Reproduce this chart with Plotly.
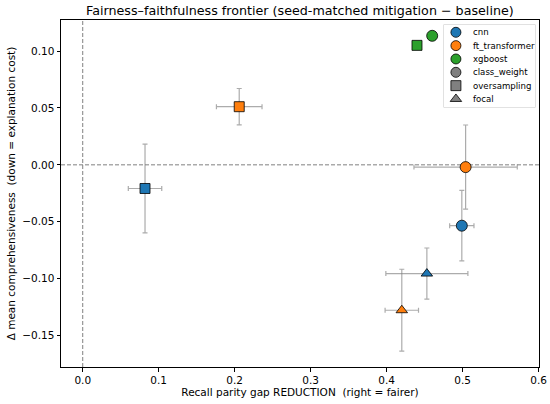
import plotly.graph_objects as go

# ---- data ----
models = ["cnn", "ft_transformer", "xgboost"]
model_colors = ["#1f77b4", "#ff7f0e", "#2ca02c"]
methods = ["class_weight", "oversampling", "focal"]
method_symbols = ["circle", "square", "triangle-up"]

# per (model, method): gap reduction (x), delta comprehensiveness (y), and errors
pt_model = ["cnn", "cnn", "cnn", "ft_transformer", "ft_transformer", "ft_transformer", "xgboost", "xgboost"]
pt_method = ["class_weight", "oversampling", "focal", "class_weight", "oversampling", "focal", "class_weight", "oversampling"]
gap_reduction = [0.499, 0.082, 0.453, 0.504, 0.206, 0.420, 0.460, 0.440]
gap_err = [0.016, 0.022, 0.054, 0.068, 0.030, 0.022, 0.0, 0.0]
delta_comp = [-0.0535, -0.0208, -0.0956, -0.0020, 0.0511, -0.1278, 0.1134, 0.1050]
comp_err = [0.031, 0.039, 0.0225, 0.037, 0.016, 0.036, 0.0, 0.0]

# legend entries (label, colour, symbol)
legend_labels = models + methods
legend_colors = model_colors + ["#808080"] * len(methods)
legend_symbols = ["circle"] * len(models) + method_symbols

FONT = "DejaVu Sans"
ERR_COLOR = "rgba(128,128,128,0.65)"
W, H = 550, 404
L, R, T, B = 60.5, 539.3, 20.0, 367.0

fig = go.Figure()

sizes = {"circle": 11, "square": 10, "triangle-up": 10}

for i in range(len(pt_model)):
    c = model_colors[models.index(pt_model[i])]
    sym = method_symbols[methods.index(pt_method[i])]
    has_err = gap_err[i] > 0 or comp_err[i] > 0
    fig.add_trace(go.Scatter(
        x=[gap_reduction[i]], y=[delta_comp[i]],
        mode="markers",
        marker=dict(symbol=sym, size=sizes[sym], color=c,
                    line=dict(color="black", width=0.8)),
        error_x=dict(type="data", array=[gap_err[i]], visible=has_err,
                     color=ERR_COLOR, thickness=1.2, width=2.5),
        error_y=dict(type="data", array=[comp_err[i]], visible=has_err,
                     color=ERR_COLOR, thickness=1.2, width=2.5),
        showlegend=False, hoverinfo="skip",
    ))

# legend drawn in an inset axis (compact, like the reference)
leg_idx = list(range(len(legend_labels)))
fig.add_trace(go.Scatter(
    x=[0.132] * len(leg_idx), y=leg_idx, mode="markers",
    marker=dict(symbol=legend_symbols, size=10, color=legend_colors,
                line=dict(color="black", width=0.8)),
    xaxis="x2", yaxis="y2", showlegend=False, hoverinfo="skip",
))
for k, lab in zip(leg_idx, legend_labels):
    fig.add_annotation(x=0.30, y=k, xref="x2", yref="y2", text=lab,
                       showarrow=False, xanchor="left", yanchor="middle",
                       font=dict(family=FONT, size=8.6, color="black"))

leg_x0, leg_x1 = (444 - L) / (R - L), (535.5 - L) / (R - L)
leg_y1, leg_y0 = (B - 24.7) / (B - T), (B - 107.3) / (B - T)
fig.add_shape(type="rect", xref="paper", yref="paper",
              x0=leg_x0, x1=leg_x1, y0=leg_y0, y1=leg_y1,
              line=dict(color="#cccccc", width=1), fillcolor="rgba(255,255,255,0.8)",
              layer="below")

# reference lines
fig.add_hline(y=0, line=dict(color="#808080", width=1, dash="4px,2px"), layer="below")
fig.add_vline(x=0, line=dict(color="#808080", width=1, dash="4px,2px"), layer="below")

axis_common = dict(showline=True, linecolor="black", linewidth=1, mirror=True,
                   ticks="outside", ticklen=3.5, tickcolor="black", tickwidth=0.8,
                   showgrid=False, zeroline=False, automargin=False,
                   tickfont=dict(family=FONT, size=10.5, color="black"))

fig.update_layout(
    width=W, height=H,
    margin=dict(l=L, r=W - R, t=T, b=H - B, pad=0, autoexpand=False),
    plot_bgcolor="white", paper_bgcolor="white",
    font=dict(family=FONT, color="black"),
    showlegend=False,
    title=dict(text="Fairness\u2013faithfulness frontier (seed-matched mitigation \u2212 baseline)",
               x=(L + R) / 2 / W, xanchor="center", y=1 - 10.5 / H, yanchor="middle",
               font=dict(family=FONT, size=12.7, color="black")),
    xaxis=dict(range=[-0.0286, 0.6006], dtick=0.1, tick0=0, tickformat=".1f",
               title=dict(text="Recall parity gap REDUCTION \u00a0(right = fairer)",
                          font=dict(family=FONT, size=10.5, color="black"), standoff=2),
               **axis_common),
    yaxis=dict(range=[-0.1777, 0.1273], dtick=0.05, tick0=0, tickformat=".2f",
               title=dict(text="\u0394 mean comprehensiveness \u00a0(down = explanation cost)",
                          font=dict(family=FONT, size=10.5, color="black"), standoff=4),
               **axis_common),
    xaxis2=dict(domain=[leg_x0, leg_x1], range=[0, 1], visible=False, anchor="y2",
                fixedrange=True),
    yaxis2=dict(domain=[leg_y0, leg_y1], range=[5.625, -0.57], visible=False, anchor="x2",
                fixedrange=True),
)

fig.write_html("out.html", config={"displayModeBar": False},
               post_script="document.body.style.margin='0';document.body.style.padding='0';")
